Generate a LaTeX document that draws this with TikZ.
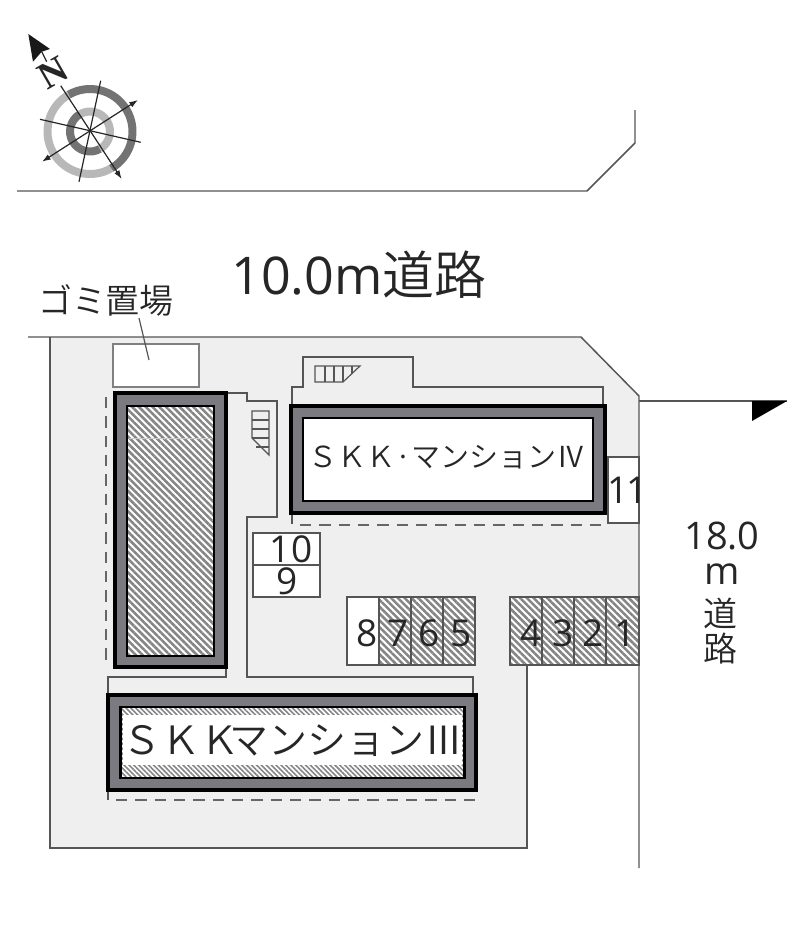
\documentclass[tikz,border=0pt]{standalone}
\usepackage{fontspec}
\setmainfont{Noto Sans CJK JP DemiLight}
\newfontfamily\nfont{Liberation Serif}
\newfontfamily\numf{Open Sans}
\usetikzlibrary{patterns.meta,arrows.meta}
\definecolor{site}{HTML}{EFEFEF}
\definecolor{bldg}{HTML}{7A7A80}
\definecolor{thin}{HTML}{555555}
\definecolor{hatchc}{HTML}{858585}
\newcommand{\fs}[1]{\fontsize{\fpeval{#1*0.75}}{\fpeval{#1*0.75}}\selectfont}
\tikzset{
  line/.style={draw=thin,line width=1.1pt},
  thinline/.style={draw=thin,line width=0.9pt},
  dashline/.style={draw=thin!90,line width=1.2pt,dash pattern=on 8.5pt off 6pt},
  hatchfill/.style={pattern={Lines[angle=-45,distance=3.6pt,line width=1.9pt]},pattern color=hatchc},
  bldgouter/.style={draw=black,line width=2.3pt,fill=bldg},
  bldginner/.style={draw=black,line width=1.9pt},
  slot/.style={draw=thin,line width=1pt,fill=white},
  hslot/.style={draw=thin,line width=1pt,hatchfill},
  lbl/.style={inner sep=0pt,text=black!85},
  needle/.style={draw=black!85,line width=0.9pt},
  arrowed/.style={needle,-{Latex[length=6.5pt,width=4.5pt]}},
  arrowedb/.style={needle,{Latex[length=6.5pt,width=4.5pt]}-{Latex[length=6.5pt,width=4.5pt]}}
}
\begin{document}
\begin{tikzpicture}[x=0.75pt,y=-0.75pt]
\useasboundingbox (0,0) rectangle (800,940);
% site
\fill[site] (50,337) -- (581,337) -- (639,396) -- (639,665) -- (527,665) -- (527,848) -- (50,848) -- cycle;
\draw[line] (28,337) -- (581,337) -- (639,396) -- (639,868);
\draw[line] (50,337) -- (50,848) -- (527,848) -- (527,665);
% top road
\draw[line] (17,191) -- (587,191) -- (635,143) -- (635,110);
% road east pointer
\draw[line] (639,401) -- (787,401);
\fill[black] (752,401) -- (787,401) -- (752,421) -- cycle;
% trash
\draw[draw=black!50,line width=1.5pt,fill=white] (113,344) rectangle (199,387);
\coordinate (leaderA) at (139,318);
\coordinate (leaderB) at (149,360);
\draw[thinline] (leaderA) -- (leaderB);
% thin outlines
\draw[thinline] (226,393) -- (247,393) -- (247,401) -- (277,401) -- (277,517) -- (247,517) -- (247,677) -- (473,677) -- (473,695);
\draw[thinline] (108,695) -- (108,677) -- (226,677) -- (226,667);
\draw[thinline] (292,406) -- (292,387) -- (303,387) -- (303,357) -- (413,357) -- (413,387) -- (603,387) -- (603,406);
% dashed
\draw[dashline] (106,397) -- (106,665);
\draw[thinline] (292,513) -- (292,524);
\draw[dashline] (300,525) -- (605,525);
\draw[thinline] (108,790) -- (108,800);
\draw[dashline] (116,800) -- (474,800) -- (474,790);
% left building
\draw[bldgouter] (115,393) rectangle (226,667);
\draw[bldginner,fill=white] (127,406) rectangle (214,656);
\fill[hatchfill] (127,406) rectangle (214,656);
\draw[bldginner] (127,406) rectangle (214,656);
\draw[draw=white!80!black,line width=0.6pt] (129,438) -- (212,438);
% building IV
\draw[bldgouter] (291,406) rectangle (605,513);
\draw[bldginner,fill=white] (303,418) rectangle (593,501);
% building III
\draw[bldgouter] (108,695) rectangle (476,790);
\draw[bldginner,fill=white] (120.5,707) rectangle (464.5,778);
\fill[pattern={Lines[angle=-45,distance=2.6pt,line width=1.2pt]},pattern color=hatchc] (121,708) rectangle (464,777);
\fill[white] (123,715) rectangle (462,765);
\draw[bldginner] (120.5,707) rectangle (464.5,778);
% stairs
\draw[thinline] (252,411) -- (269,411) -- (269,455) -- (252,438) -- cycle;
\foreach \y in {420,429,438} \draw[thinline] (252,\y) -- (269,\y);
\draw[thinline] (256,447) -- (269,447);
\draw[thinline] (315,366) -- (360,366) -- (343,382) -- (315,382) -- cycle;
\foreach \x in {325,334,343} \draw[thinline] (\x,366) -- (\x,382);
\draw[thinline] (352,366) -- (352,374);
% slots
\draw[slot] (608,457) rectangle (639,523);
\draw[slot] (253,533) rectangle (320,565);
\draw[slot] (253,565) rectangle (320,597);
\draw[slot] (347,597) rectangle (379,665);
\foreach \x/\w in {379/411,411/443,443/475,510/542,542/574,574/606,606/639}
  {\fill[white] (\x,597) rectangle (\w,665); \draw[hslot] (\x,597) rectangle (\w,665);}
% texts
\node[lbl,font=\fs{52}] (roadN) at (359,275) {{\numf 10.0m}道路};
\node[lbl,font=\fs{34}] (trash) at (106,300) {ゴミ置場};
\node[lbl,font=\fs{29}] (nameIV) at (447,457) {ＳＫＫ·マンションⅣ};
\node[lbl,font=\fs{39}] (nameIII) at (293,741) {ＳＫＫ\kern-7pt マンションⅢ};
\node[lbl,font=\numf\fs{37}] (n10) at (291,549) {10};
\node[lbl,font=\numf\fs{37}] (n9) at (287,581) {9};
\foreach \nm/\x in {8/367,7/398,6/429,5/461,4/531,3/563,2/593,1/625}
  \node[lbl,font=\numf\fs{37}] (n\nm) at (\x,633) {\nm};
\begin{scope}
\clip (600,450) rectangle (639,530);
\node[lbl,font=\numf\fs{37}] (n11a) at (618,490) {1};
\node[lbl,font=\numf\fs{37}] (n11b) at (637,490) {1};
\end{scope}
\node[lbl,font=\numf\fs{38}] (r18) at (722,536) {18.0};
\node[lbl,font=\numf\fs{38}] (rm) at (722,574) {m};
\node[lbl,font=\fs{34}] (rd1) at (720,613) {道};
\node[lbl,font=\fs{34}] (rd2) at (720,649) {路};
% compass
\coordinate (cc) at (90,131.5);
\begin{scope}[shift={(cc)}]
\draw[draw=black!28,line width=6pt] (60:42.5) arc[start angle=60,end angle=240,radius=42.5];
\draw[draw=black!55,line width=6pt] (60:42.5) arc[start angle=60,end angle=-120,radius=42.5];
\draw[draw=black!55,line width=6pt] (60:20) arc[start angle=60,end angle=240,radius=20];
\draw[draw=black!28,line width=6pt] (60:20) arc[start angle=60,end angle=-120,radius=20];
\end{scope}
\coordinate (ns1) at (60.7,85.7); \coordinate (ns2) at (121.7,179);
\coordinate (ew1) at (42,161.7); \coordinate (ew2) at (138,100);
\coordinate (a1) at (100.7,80.7); \coordinate (a2) at (79,181.7);
\coordinate (b1) at (40,119.3); \coordinate (b2) at (140.7,142.3);
\draw[arrowed] (ns1) -- (ns2);
\draw[arrowedb] (ew1) -- (ew2);
\draw[needle] (a1) -- (a2);
\draw[needle] (b1) -- (b2);
\fill[black!90] (28.3,34) -- (50,49) -- (41.7,51.7) -- (33,61.7) -- cycle;
\draw[needle] (41.7,51.7) -- (46.7,61.7);
\node[inner sep=0pt,rotate=30,font=\nfont\bfseries\fs{38},text=black!85] (north) at (52.7,73.3) {N};
\end{tikzpicture}
\end{document}
